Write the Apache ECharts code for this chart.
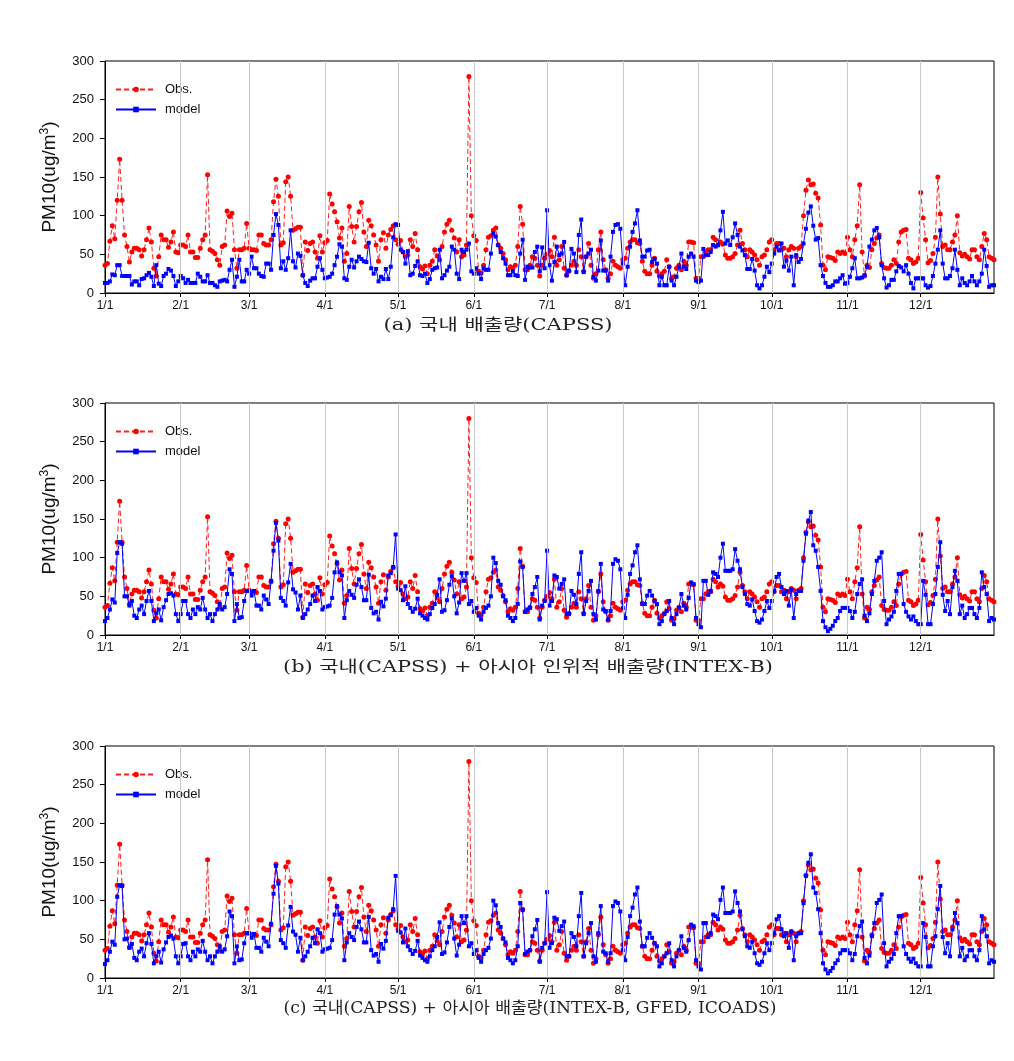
<!DOCTYPE html>
<html><head><meta charset="utf-8">
<script src="https://cdn.jsdelivr.net/npm/echarts@6/dist/echarts.min.js"></script>
<style>html,body{margin:0;padding:0;background:#fff}#c{width:1014px;height:1061px}</style>
</head><body><div id="c"></div>
<script>
// Month starts (day of year index) and tick labels
const monthStarts = [0,31,59,90,120,151,181,212,243,273,304,334];
const monthLabels = ['1/1','2/1','3/1','4/1','5/1','6/1','7/1','8/1','9/1','10/1','11/1','12/1'];

const captions = [
  '(a) 국내 배출량(CAPSS)',
  '(b) 국내(CAPSS) + 아시아 인위적 배출량(INTEX-B)',
  '(c) 국내(CAPSS) + 아시아 배출량(INTEX-B, GFED, ICOADS)'
];

// Observed PM10 (same in all panels), daily, 1/1 .. 12/31
const obs = [
 36,38,67,87,70,120,173,120,75,60, 40,53,58,58,56,48,56,69,84,66, 32,22,47,75,69,69,59,66,79,53, 52,
 62,62,60,75,53,53,46,46,58,69, 75,153,56,54,51,43,36,60,62,106, 99,103,56,32,56,56,58,90,
 58,56,56,55,75,75,64,62,62,69, 118,147,125,62,65,144,150,125,81,83, 85,85,23,66,55,64,66,53,45,74, 53,
 65,68,128,115,105,92,71,84,41,51, 112,86,66,86,105,117,79,60,94,87, 75,62,41,69,78,58,75,82,87,69,
 63,68,53,47,49,69,60,77,56,34, 31,35,25,36,41,56,48,43,60,79, 89,94,81,71,53,69,47,49,62,280, 100,
 74,68,28,26,36,56,72,74,81,84, 62,58,51,43,30,34,32,36,60,112, 89,30,30,36,47,45,36,22,36,45,
 50,55,47,72,36,43,60,32,23,28, 36,41,36,56,47,28,47,64,36,19, 25,56,79,43,30,19,25,41,36,34, 32,
 43,45,58,66,69,69,65,64,41,28, 25,25,36,45,28,22,25,28,43,34, 19,21,32,36,30,41,36,66,66,65, 19,
 19,47,47,53,56,56,72,69,62,66, 63,49,45,45,47,51,62,81,64,56, 47,56,53,49,43,36,47,49,56,66,
 69,56,64,64,56,58,47,56,60,58, 47,58,60,100,133,146,140,141,129,123, 88,36,30,47,46,45,42,53,51,53, 51,
 72,56,47,69,87,140,53,22,36,33, 56,64,71,75,38,33,32,32,36,43, 38,66,79,81,82,45,43,38,40,45,
 130,97,69,39,42,51,72,150,102,60, 62,56,56,66,75,100,52,48,50,47, 44,56,56,47,43,60,77,69,47,45, 43
];

// (a) model with domestic emissions only
const modelA = [
 13,13,15,24,23,36,36,22,22,22, 22,11,15,15,10,18,19,23,26,21, 9,36,12,9,22,25,31,29,22,9, 15,
 22,19,13,17,13,13,13,25,21,15, 15,23,13,13,10,8,15,16,17,15, 30,43,8,21,43,15,15,30,
 25,47,32,32,25,22,21,38,38,30, 75,102,88,32,41,30,45,81,41,33, 51,48,23,13,9,16,19,19,34,45, 30,
 19,20,21,25,36,47,63,60,19,17, 34,43,33,41,47,44,41,40,65,32, 25,31,15,21,18,31,18,34,72,89,
 88,56,53,38,54,23,25,35,41,23, 22,25,13,18,30,32,33,56,19,23, 29,34,60,56,25,18,56,53,56,64, 28,
 25,32,25,18,32,30,30,51,77,73, 62,53,45,38,23,23,28,23,22,51, 69,17,34,33,33,53,60,28,59,32,
 107,36,16,40,60,49,51,66,23,29, 57,51,27,75,95,27,47,51,56,21, 16,29,68,29,29,16,47,79,88,89, 83,
 38,10,34,60,79,90,107,68,47,47, 55,56,40,44,38,10,21,10,10,34, 16,10,21,34,51,34,31,47,51,47, 16,
 14,16,57,49,49,53,62,60,62,81, 105,64,68,62,72,90,75,60,55,49, 31,31,44,29,10,6,10,21,34,27,
 38,51,60,55,64,34,42,29,47, 10,49,40,44,64,83,104,112,87,69,71, 36,22,13,8,8,10,15,15,19,23,12,
 13,21,32,45,19,19,20,23,34,60, 69,81,84,72,36,19,7,10,17,17, 28,35,33,28,36,25,13,6,19,19,
 19,19,10,7,9,22,38,56,81,38, 19,19,22,32,56,30,10,19,13,10, 15,22,15,10,15,25,56,35,8,10, 10
];

// (b) model with domestic + Asian anthropogenic emissions
const modelB = [
 18,22,33,46,42,106,120,118,50,50, 38,44,25,22,33,38,27,44,57,44, 18,28,33,19,36,45,53,54,51,27, 18,
 27,44,44,27,22,33,27,36,33,48, 33,22,27,18,27,33,40,33,36,53, 85,79,18,40,22,23,44,57,
 57,51,57,38,38,33,51,46,40,70, 109,145,122,48,44,38,68,92,59,55, 33,51,22,27,33,40,51,44,62,57, 33,
 36,37,38,48,81,94,81,77,22,45, 57,52,48,65,72,62,45,45,78,35, 28,30,20,43,37,47,77,80,88,130,
 60,58,45,63,40,35,30,34,47,28, 25,22,20,27,35,40,52,72,30,32, 45,65,76,50,28,42,80,70,80,40, 44,
 30,35,25,20,30,35,38,50,100,93, 70,65,50,45,25,22,18,22,40,95, 88,30,33,35,53,62,75,20,38,44,
 109,38,44,77,75,60,66,72,27,27, 57,52,40,79,107,27,44,57,70,27, 20,57,92,33,31,20,31,92,98,96, 85,
 35,22,52,79,90,107,116,72,40,40, 51,57,51,44,40,14,18,27,31,44, 22,14,27,35,53,38,33,48,68,66, 22,
 14,10,70,70,52,57,81,79,75,100, 118,83,83,83,85,111,96,85,62,53, 40,38,46,31,18,16,20,31,44,35,
 44,57,75,79,62,53,57,38,59,22, 53,57,57,96,131,148,159,116,109,88, 57,18,10,5,8,12,18,22,31,35, 35,
 35,31,22,30,53,66,72,25,18,28, 53,70,96,100,107,44,14,20,24,30, 57,79,79,40,30,24,20,24,18,14,
 14,70,52,14,14,40,53,88,120,52, 31,44,27,62,83,70,27,38,22,27, 35,35,27,22,35,81,62,53,18,22, 20
];

// (c) model with domestic + Asian (INTEX-B, GFED, ICOADS) emissions
const modelC = [
 18,23,34,47,43,105,120,119,50,51, 39,44,26,23,34,38,28,45,58,44, 19,28,34,20,37,46,53,55,51,28, 19,
 28,44,45,28,23,34,28,37,34,48, 34,23,28,19,28,34,41,34,37,54, 86,80,19,41,23,24,45,58,
 58,52,57,39,39,34,52,47,41,70, 109,145,122,49,45,39,68,92,60,56, 34,52,23,28,34,41,52,45,63,58, 34,
 37,38,39,49,82,93,82,77,23,46, 58,53,49,66,73,63,46,46,79,36, 29,31,21,44,38,48,78,81,89,132,
 61,59,46,64,41,36,31,35,48,29, 26,23,21,28,36,41,53,72,31,33, 46,66,77,51,29,43,80,71,80,41, 45,
 31,36,26,21,31,36,39,51,100,94, 71,66,51,46,26,23,19,23,41,97, 88,31,34,36,54,63,75,21,39,45,
 111,39,45,78,76,61,67,73,28,28, 58,53,41,80,110,28,45,58,71,28, 21,58,93,34,32,21,32,93,99,97, 86,
 36,23,53,80,91,108,117,73,41,41, 52,58,52,45,41,15,19,28,32,45, 23,15,28,36,54,39,34,49,69,67, 23,
 15,11,71,71,53,58,82,80,76,101, 117,84,84,84,86,112,97,86,63,54, 41,39,47,32,19,17,21,32,45,36,
 45,58,76,80,63,54,58,39,60,23, 54,58,58,97,132,149,160,117,110,89, 58,19,11,6,9,13,19,23,32,36, 36,
 36,32,23,31,54,67,73,26,19,29, 54,71,97,101,108,45,15,21,25,31, 58,80,80,41,31,25,21,25,19,15,
 15,71,53,15,15,41,54,89,119,53, 32,45,28,63,84,71,28,39,23,28, 36,36,28,23,36,80,63,54,19,23, 21
];

const models = [modelA, modelB, modelC];
const panelTops = [61, 403, 746];
const panelH = 232;
const capY = [326, 668, 1009];
const capX = [498, 528, 530];
const capW = [229, 490, 493];

const toXY = arr => arr.map((v, i) => [i, v]);

const chart = echarts.init(document.getElementById('c'), null, {renderer: 'canvas'});
const font = "'Liberation Sans', Arial, sans-serif";
const capFont = "'DejaVu Serif', 'Noto Sans CJK KR', serif";
const capSize = 16;
const mctx = document.createElement('canvas').getContext('2d');
mctx.font = capSize + "px " + capFont;

const grids = [], xAxes = [], yAxes = [], series = [], legends = [], graphics = [];
for (let p = 0; p < 3; p++) {
  grids.push({left: 105, right: 20, top: panelTops[p], height: panelH, show: true,
              borderColor: '#000', borderWidth: 1, backgroundColor: 'transparent', containLabel: false});
  xAxes.push({type: 'value', gridIndex: p, min: 0, max: 364,
    axisLine: {show: true, onZero: false, lineStyle: {color: '#000', width: 1}},
    axisTick: {show: true, customValues: monthStarts, length: 4, lineStyle: {color: '#000'}},
    axisLabel: {show: true, customValues: monthStarts, margin: 7, fontFamily: font, fontSize: 12, color: '#111',
      formatter: v => { const k = monthStarts.indexOf(v); return k >= 0 ? monthLabels[k] : ''; }},
    splitLine: {show: false}});
  yAxes.push({type: 'value', gridIndex: p, min: 0, max: 300, interval: 50,
    axisLine: {show: true, lineStyle: {color: '#000', width: 1}},
    axisTick: {show: true, length: 5, lineStyle: {color: '#000'}},
    axisLabel: {fontFamily: font, fontSize: 13, color: '#111', margin: 11},
    splitLine: {show: false},
    name: 'PM10(ug/m{sup|3})', nameLocation: 'middle', nameRotate: 90, nameGap: 44,
    nameTextStyle: {fontFamily: font, fontSize: 19, color: '#111',
      rich: {sup: {fontSize: 12, fontFamily: font, color: '#111', padding: [0, 0, 10, 0]}}}});
  // month grid lines
  series.push({type: 'line', name: '_grid' + p, xAxisIndex: p, yAxisIndex: p, data: [], silent: true, z: 1,
    markLine: {silent: true, symbol: 'none', animation: false, label: {show: false},
      lineStyle: {color: '#c8c8c8', width: 1, type: 'solid'},
      data: monthStarts.slice(1).map(v => ({xAxis: v}))}});
  series.push({type: 'line', name: 'Obs.', xAxisIndex: p, yAxisIndex: p, data: toXY(obs), z: 3,
    symbol: 'circle', symbolSize: 5, showAllSymbol: true, animation: false,
    lineStyle: {color: '#ff2020', width: 1, type: [5, 3]}, itemStyle: {color: '#ff0000'}});
  series.push({type: 'line', name: 'model', xAxisIndex: p, yAxisIndex: p, data: toXY(models[p]), z: 4,
    symbol: 'rect', symbolSize: 4, showAllSymbol: true, animation: false,
    lineStyle: {color: '#0000ff', width: 1}, itemStyle: {color: '#0000ff'}});
  legends.push({show: true, orient: 'vertical', left: 115, top: panelTops[p] + 21, itemWidth: 40, itemHeight: 7,
    itemGap: 5, padding: 0, data: ['Obs.', 'model'], selectedMode: false,
    textStyle: {fontFamily: font, fontSize: 13, color: '#111', lineHeight: 15, padding: [0, 0, 0, 4]}});
  const w = mctx.measureText(captions[p]).width;
  graphics.push({type: 'text', x: capX[p], y: capY[p], scaleX: capW[p] / w,
    style: {text: captions[p], fontFamily: capFont, fontSize: capSize, fill: '#222',
      align: 'center', verticalAlign: 'middle'}});
}

chart.setOption({
  animation: false,
  grid: grids, xAxis: xAxes, yAxis: yAxes, series: series, legend: legends,
  graphic: graphics
});
</script></body></html>
